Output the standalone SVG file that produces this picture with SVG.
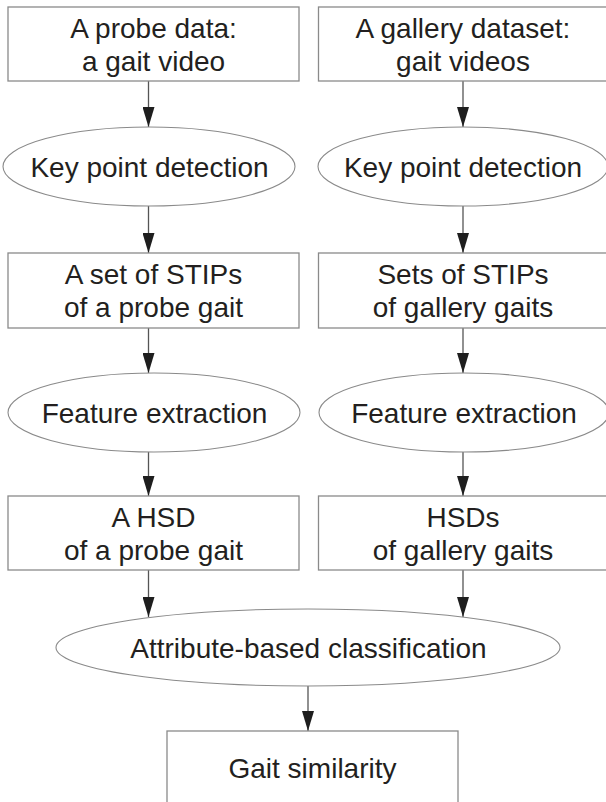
<svg xmlns="http://www.w3.org/2000/svg" width="606" height="802" viewBox="0 0 606 802">
<defs>
<style>
.box{fill:#fff;stroke:#8a8a8a;stroke-width:1.3}
.ell{fill:#fff;stroke:#8a8a8a;stroke-width:1.1}
.t{font-family:"Liberation Sans",Arial,sans-serif;font-size:28px;fill:#231f20;text-anchor:middle}
.c{stroke:#555;stroke-width:1.3;fill:none;marker-end:url(#ah)}
</style>
<marker id="ah" markerUnits="userSpaceOnUse" markerWidth="20" markerHeight="12" refX="20" refY="6" orient="auto" viewBox="0 0 20 12">
<path d="M0,0 L20,6 L0,12 Z" fill="#1e1e1e"/>
</marker>
</defs>
<rect width="606" height="802" fill="#fff"/>
<g id="connectors">
<line class="c" x1="148.5" y1="81" x2="148.5" y2="127"/>
<line class="c" x1="148.5" y1="206" x2="148.5" y2="253"/>
<line class="c" x1="148.5" y1="328" x2="148.5" y2="373"/>
<line class="c" x1="148.5" y1="452" x2="148.5" y2="496"/>
<line class="c" x1="148.5" y1="570" x2="148.5" y2="617"/>
<line class="c" x1="463" y1="81" x2="463" y2="127"/>
<line class="c" x1="463" y1="206" x2="463" y2="253"/>
<line class="c" x1="463" y1="328" x2="463" y2="373"/>
<line class="c" x1="463" y1="452" x2="463" y2="496"/>
<line class="c" x1="463" y1="570" x2="463" y2="617"/>
<line class="c" x1="308" y1="686" x2="308" y2="731"/>
</g>
<g id="probe-data">
<rect class="box" x="8" y="7" width="291" height="74"/>
<text class="t" x="153.5" y="38">A probe data:</text>
<text class="t" x="153.5" y="71">a gait video</text>
</g>
<g id="gallery-data">
<rect class="box" x="318.5" y="7" width="291" height="74"/>
<text class="t" x="463" y="38">A gallery dataset:</text>
<text class="t" x="463" y="71">gait videos</text>
</g>
<g id="kpd-probe">
<ellipse class="ell" cx="149" cy="166.5" rx="146" ry="39.5"/>
<text class="t" x="149.5" y="176.5">Key point detection</text>
</g>
<g id="kpd-gallery">
<ellipse class="ell" cx="463" cy="166.5" rx="145" ry="39.5"/>
<text class="t" x="463" y="176.5">Key point detection</text>
</g>
<g id="stips-probe">
<rect class="box" x="8" y="253" width="291" height="75"/>
<text class="t" x="153.5" y="284">A set of STIPs</text>
<text class="t" x="153.5" y="317">of a probe gait</text>
</g>
<g id="stips-gallery">
<rect class="box" x="318.5" y="253" width="291" height="75"/>
<text class="t" x="463" y="284">Sets of STIPs</text>
<text class="t" x="463" y="317">of gallery gaits</text>
</g>
<g id="fe-probe">
<ellipse class="ell" cx="154" cy="412.5" rx="146" ry="39.5"/>
<text class="t" x="154.5" y="422.5">Feature extraction</text>
</g>
<g id="fe-gallery">
<ellipse class="ell" cx="464" cy="412.5" rx="145" ry="39.5"/>
<text class="t" x="464" y="422.5">Feature extraction</text>
</g>
<g id="hsd-probe">
<rect class="box" x="8" y="496" width="291" height="74"/>
<text class="t" x="153.5" y="527">A HSD</text>
<text class="t" x="153.5" y="560">of a probe gait</text>
</g>
<g id="hsd-gallery">
<rect class="box" x="318.5" y="496" width="291" height="74"/>
<text class="t" x="463" y="527">HSDs</text>
<text class="t" x="463" y="560">of gallery gaits</text>
</g>
<g id="classification">
<ellipse class="ell" cx="308" cy="647.5" rx="252" ry="38.5"/>
<text class="t" x="308.5" y="657.5">Attribute-based classification</text>
</g>
<g id="similarity">
<rect class="box" x="167" y="731" width="291" height="80"/>
<text class="t" x="312.5" y="778">Gait similarity</text>
</g>
</svg>
